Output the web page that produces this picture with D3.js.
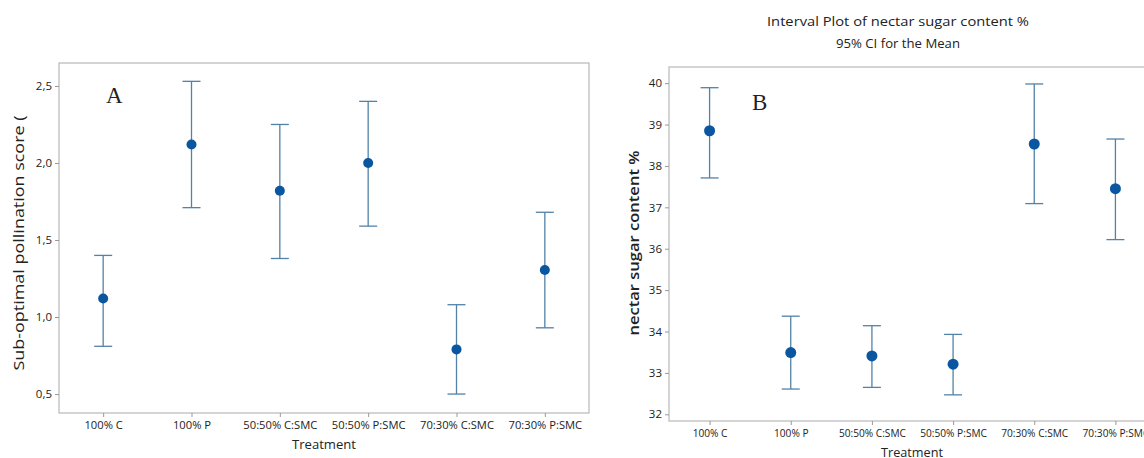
<!DOCTYPE html>
<html><head><meta charset="utf-8">
<script src="https://cdn.jsdelivr.net/npm/d3@7"></script>
<style>
body{margin:0;background:#fff;}
svg{display:block;}
text{font-family:"Open Sans","Noto Sans",sans-serif;fill:#222;}
</style></head>
<body>
<svg id="chart" width="1144" height="458"></svg>
<script>
const categories = ["100% C","100% P","50:50% C:SMC","50:50% P:SMC","70:30% C:SMC","70:30% P:SMC"];
// Panel A: sub-optimal pollination score
const meanA  = [1.12, 2.12, 1.82, 2.00, 0.79, 1.305];
const upperA = [1.40, 2.53, 2.25, 2.40, 1.08, 1.68];
const lowerA = [0.81, 1.71, 1.38, 1.59, 0.50, 0.93];
const ticksA = [0.5, 1.0, 1.5, 2.0, 2.5];
// Panel B: nectar sugar content %
const meanB  = [38.85, 33.49, 33.41, 33.21, 38.53, 37.45];
const upperB = [39.89, 34.37, 34.14, 33.93, 39.98, 38.65];
const lowerB = [37.71, 32.61, 32.65, 32.47, 37.09, 36.22];
const ticksB = [32, 33, 34, 35, 36, 37, 38, 39, 40];

const svg = d3.select("#chart");
const barColor = "#5282a8", dotColor = "#0a56a0", frameColor = "#b8b8b8";

function panel(cfg){
  const g = svg.append("g");
  const x = d3.scalePoint().domain(categories).range([cfg.x0, cfg.x1]).padding(0.5);
  const y = d3.scaleLinear().domain(cfg.domain).range([cfg.y1, cfg.y0]);
  // frame
  g.append("rect").attr("x", cfg.x0).attr("y", cfg.y0)
    .attr("width", cfg.x1 - cfg.x0).attr("height", cfg.y1 - cfg.y0)
    .attr("fill", "none").attr("stroke", frameColor).attr("stroke-width", 1.2);
  // y axis
  const ya = g.append("g").attr("transform", `translate(${cfg.x0},0)`)
    .call(d3.axisLeft(y).tickValues(cfg.ticks).tickSize(4).tickPadding(3).tickFormat(cfg.fmt));
  ya.select(".domain").remove();
  ya.selectAll("line").attr("stroke", "#999");
  ya.selectAll("text").style("font-size", cfg.yFont + "px").attr("fill", "#333");
  // x axis
  const xa = g.append("g").attr("transform", `translate(0,${cfg.y1})`)
    .call(d3.axisBottom(x).tickSize(4).tickPadding(4));
  xa.select(".domain").remove();
  xa.selectAll("line").attr("stroke", "#999");
  const xt = xa.selectAll("text").style("font-size", cfg.xFont + "px").attr("fill", "#333");
  let refW = 0;
  xt.each(function(d){ if (d === "50:50% C:SMC") refW = this.getComputedTextLength(); });
  const sq = cfg.refTarget / refW;
  xt.attr("textLength", function(){ return this.getComputedTextLength()*sq; })
    .attr("lengthAdjust", "spacingAndGlyphs");
  // error bars
  const data = categories.map((c,i)=>({c, m:cfg.mean[i], u:cfg.upper[i], l:cfg.lower[i]}));
  const eb = g.append("g").selectAll("g").data(data).join("g");
  eb.append("line").attr("x1", d=>x(d.c)).attr("x2", d=>x(d.c))
    .attr("y1", d=>y(d.u)).attr("y2", d=>y(d.l)).attr("stroke", barColor).attr("stroke-width", 1.3);
  eb.append("line").attr("x1", d=>x(d.c)-9).attr("x2", d=>x(d.c)+9)
    .attr("y1", d=>y(d.u)).attr("y2", d=>y(d.u)).attr("stroke", barColor).attr("stroke-width", 1.3);
  eb.append("line").attr("x1", d=>x(d.c)-9).attr("x2", d=>x(d.c)+9)
    .attr("y1", d=>y(d.l)).attr("y2", d=>y(d.l)).attr("stroke", barColor).attr("stroke-width", 1.3);
  eb.append("circle").attr("cx", d=>x(d.c)).attr("cy", d=>y(d.m)).attr("r", cfg.r).attr("fill", dotColor);
  // labels
  g.append("text").attr("x", cfg.xtX).attr("y", cfg.xtY).attr("text-anchor","middle")
    .style("font-size","13px").attr("textLength", cfg.xtW).attr("lengthAdjust","spacingAndGlyphs")
    .text("Treatment");
  g.append("text").attr("transform", `translate(${cfg.ytX},${cfg.ytY}) rotate(-90)`)
    .attr("text-anchor","middle").style("font-size", cfg.ylSize + "px").style("font-weight", cfg.ylw)
    .attr("textLength", cfg.ylLen).attr("lengthAdjust","spacingAndGlyphs")
    .text(cfg.ylabel);
  g.append("text").attr("x", cfg.lx).attr("y", cfg.ly)
    .style("font-family","'Liberation Serif','Times New Roman',serif").style("font-size","23px").attr("fill","#000")
    .text(cfg.letter);
  return {x, y};
}

panel({x0:59, x1:589, y0:63, y1:413, domain:[0.377, 2.649], ticks:ticksA,
  fmt: d => d3.format(".1f")(d).replace(".", ","), yFont:11.5, xFont:11.5, refTarget:74,
  mean:meanA, upper:upperA, lower:lowerA, r:5,
  xtX:324, xtY:449, xtW:64, ytX:24, ytY:243, ylSize:14, ylLen:255,
  ylabel:"Sub-optimal pollination score (", ylw:"normal",
  lx:106, ly:103, letter:"A"});

panel({x0:669, x1:1156, y0:67, y1:421, domain:[31.838, 40.39], ticks:ticksB,
  fmt: d3.format("d"), yFont:11.5, xFont:11, refTarget:67,
  mean:meanB, upper:upperB, lower:lowerB, r:5.5,
  xtX:912, xtY:457, xtW:62, ytX:639, ytY:243, ylSize:13.5, ylLen:185,
  ylabel:"nectar sugar content %", ylw:"600",
  lx:752, ly:110, letter:"B"});

svg.append("text").attr("x", 898).attr("y", 26).attr("text-anchor","middle")
  .style("font-size","13.5px").attr("textLength", 262).attr("lengthAdjust","spacingAndGlyphs")
  .text("Interval Plot of nectar sugar content %");
svg.append("text").attr("x", 898).attr("y", 48).attr("text-anchor","middle")
  .style("font-size","13px").attr("textLength", 124).attr("lengthAdjust","spacingAndGlyphs")
  .text("95% CI for the Mean");
</script>
</body></html>
